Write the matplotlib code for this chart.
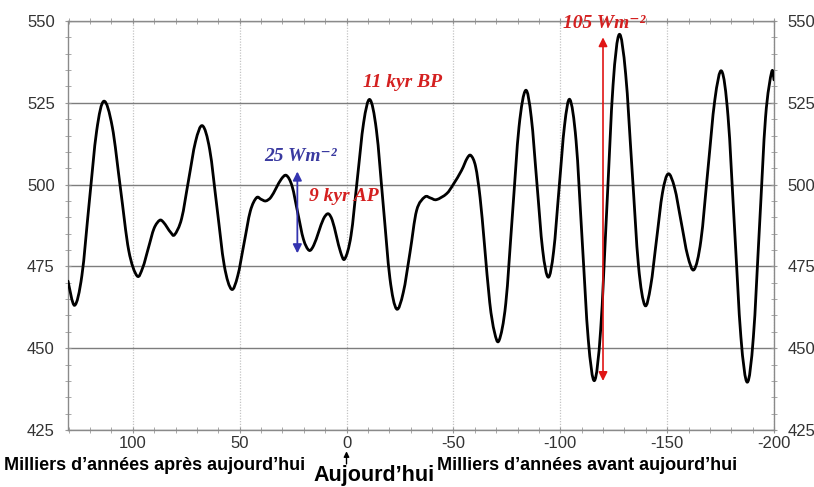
import numpy as np
import matplotlib
matplotlib.use("Agg")
import matplotlib.pyplot as plt
from matplotlib.path import Path
from matplotlib.patches import PathPatch
from matplotlib.ticker import MultipleLocator
from matplotlib import font_manager

# insolation d'ete a 65N (W/m2), en milliers d'annees (positif = futur)
kyr = [130.3, 127.2, 123.8, 120.4, 116.9, 113.5, 109.6, 105.75, 101.9, 98.0,
       95.35, 92.7, 90.05, 87.4, 85.65, 83.9, 82.15, 80.4, 77.15, 73.9,
       70.65, 67.4, 64.0, 60.6, 57.2, 53.8, 50.9, 47.95, 45.0, 42.1,
       39.95, 37.8, 35.4, 32.95, 30.5, 28.1, 25.45, 22.8, 20.15, 17.5,
       15.3, 13.05, 10.8, 8.6, 6.65, 4.7, 2.75, 0.8, -2.1, -5.05,
       -8.0, -10.9, -14.0, -17.15, -20.3, -23.4, -26.55, -29.7, -32.8, -36.6,
       -39.3, -42.1, -46.8, -49.9, -53.8, -56.4, -58.2, -60.4, -62.5, -64.5,
       -67.0, -69.2, -71.4,
       -74.5, -77.6, -80.7, -83.8, -86.45, -89.1, -91.75, -94.4, -96.9, -99.45,
       -102.0, -104.5, -107.4, -110.25, -113.1, -116.0, -118.9, -121.8, -124.7, -127.6,
       -130.6, -133.6, -136.6, -139.6, -142.3, -145.05, -147.8, -150.5, -153.5, -156.55,
       -159.6, -162.6, -165.8, -169.05, -172.3, -175.5, -178.5, -181.5, -184.5, -187.5,
       -190.35, -193.2, -196.05, -198.9, -200.0]
insol = [470.5, 463.1, 472.2, 494.3, 516.4, 525.5, 517.7, 498.8, 479.9, 472.1,
         474.6, 480.6, 486.6, 489.1, 488.5, 486.9, 485.3, 484.7, 489.6, 501.35,
         513.1, 518.0, 510.7, 493.0, 475.3, 468.0, 472.1, 482.0, 491.9, 496.0,
         495.5, 495.0, 496.1, 498.9, 501.7, 502.8, 499.5, 491.35, 483.3, 479.9,
         481.5, 485.5, 489.5, 491.1, 489.1, 484.2, 479.3, 477.3, 484.4, 501.65,
         518.9, 526.0, 516.6, 494.0, 471.4, 462.0, 467.0, 479.25, 492.1, 496.2,
         495.9, 495.4, 497.2, 500.0, 504.3, 508.0, 508.9, 505.5, 496.0, 482.0,
         464.0, 455.0, 452.4,
         463.6, 490.6, 517.6, 528.8, 520.5, 500.25, 480.1, 471.7, 479.6, 498.85,
         518.05, 526.0, 513.4, 483.05, 452.7, 440.1, 455.6, 493.0, 530.4, 545.9,
         533.8, 504.5, 475.2, 463.1, 469.0, 483.2, 497.4, 503.3, 499.0, 488.65,
         478.3, 474.0, 482.9, 504.35, 525.8, 534.7, 520.8, 487.15, 453.5, 439.6,
         453.4, 487.0, 520.6, 534.4, 532.0]

yticks = [425, 450, 475, 500, 525, 550]
xticks = [100, 50, 0, -50, -100, -150, -200]

# amplitudes marquees par les fleches
small_t, small_lo, small_amp = 23.0, 479.0, 25
big_t, big_lo, big_amp = -120.0, 440.0, 105

names = {f.name for f in font_manager.fontManager.ttflist}
narrow = "Liberation Sans Narrow" if "Liberation Sans Narrow" in names else "Liberation Sans"
serif = ["Liberation Serif", "DejaVu Serif"]

plt.rcParams["font.family"] = ["Liberation Sans", "DejaVu Sans"]
plt.rcParams["axes.unicode_minus"] = False


def smooth_path(x, y):
    # courbe de Catmull-Rom passee en Bezier cubiques
    pts = np.column_stack([x, y])
    ext = np.vstack([pts[0], pts, pts[-1]])
    verts = [pts[0]]
    codes = [Path.MOVETO]
    for i in range(len(pts) - 1):
        p0, p1, p2, p3 = ext[i], ext[i + 1], ext[i + 2], ext[i + 3]
        verts += [p1 + (p2 - p0) / 6.0, p2 - (p3 - p1) / 6.0, p2]
        codes += [Path.CURVE4] * 3
    return Path(verts, codes)


W, H = 814, 487
fig = plt.figure(figsize=(W / 100, H / 100), dpi=100)
ax = fig.add_axes([68 / W, 1 - 430 / H, (774 - 68) / W, (430 - 21) / H])

ax.set_xlim(130.3, -200)
ax.set_ylim(425, 550)

ax.yaxis.grid(True, color="#7d7d7d", lw=1.0)
ax.xaxis.grid(True, color="#c4c4c4", lw=0.9, ls=(0, (1, 1.2)))
ax.set_axisbelow(True)

ax.add_patch(PathPatch(smooth_path(kyr, insol), fill=False, ec="black", lw=2.0,
                       joinstyle="round", capstyle="round", zorder=3))

ax.set_xticks(xticks)
ax.set_yticks(yticks)
ax.xaxis.set_minor_locator(MultipleLocator(10))
ax.yaxis.set_minor_locator(MultipleLocator(5))
ax.tick_params(which="both", top=True, right=True, labelright=True,
               direction="inout", color="#9a9a9a", labelsize=12,
               labelcolor="#333333")
ax.tick_params(which="major", length=5, width=0.8)
ax.tick_params(which="minor", length=4, width=0.6)
ax.tick_params(axis="y", pad=7)
ax.tick_params(axis="x", pad=2)
for s in ax.spines.values():
    s.set_color("#8a8a8a")
    s.set_linewidth(1.0)

# fleches d'amplitude
ax.annotate("", xy=(small_t, small_lo + small_amp), xytext=(small_t, small_lo),
            arrowprops=dict(arrowstyle="<|-|>", color="#3434b0", lw=1.3,
                            mutation_scale=13, shrinkA=0, shrinkB=0), zorder=4)
ax.annotate("", xy=(big_t, big_lo + big_amp), xytext=(big_t, big_lo),
            arrowprops=dict(arrowstyle="<|-|>", color="#e01515", lw=1.2,
                            mutation_scale=13, shrinkA=0, shrinkB=0), zorder=4)

ax.text(21.5, 508.5, f"{small_amp} Wm⁻²", color="#3a3aa0", family=serif,
        style="italic", weight="bold", size=14, ha="center", va="center")
ax.text(17.6, 496.5, "9 kyr AP", color="#d42020", family=serif,
        style="italic", weight="bold", size=14, ha="left", va="center", zorder=5)
ax.text(-7.5, 531.2, "11 kyr BP", color="#d42020", family=serif,
        style="italic", weight="bold", size=14, ha="left", va="center")
ax.text(-101.2, 549.3, f"{big_amp} Wm⁻²", color="#d42020", family=serif,
        style="italic", weight="bold", size=14, ha="left", va="center",
        clip_on=False, zorder=5)

# legendes du bas
fig.text(155 / W, 1 - 466 / H, "Milliers d’années après aujourd’hui",
         ha="center", va="center", family=narrow, weight="bold", size=13)
fig.text(587 / W, 1 - 466 / H, "Milliers d’années avant aujourd’hui",
         ha="center", va="center", family=narrow, weight="bold", size=13)
fig.text(374 / W, 1 - 481 / H, "Aujourd’hui", ha="center", va="baseline",
         family=narrow, weight="bold", size=15.5)
ax.annotate("", xy=(0, -0.052), xycoords=("data", "axes fraction"),
            xytext=(0, -0.083), textcoords=("data", "axes fraction"),
            arrowprops=dict(arrowstyle="-|>", color="black", lw=1.0,
                            mutation_scale=8, shrinkA=0, shrinkB=0),
            annotation_clip=False)

fig.savefig("out.png", dpi=100)
